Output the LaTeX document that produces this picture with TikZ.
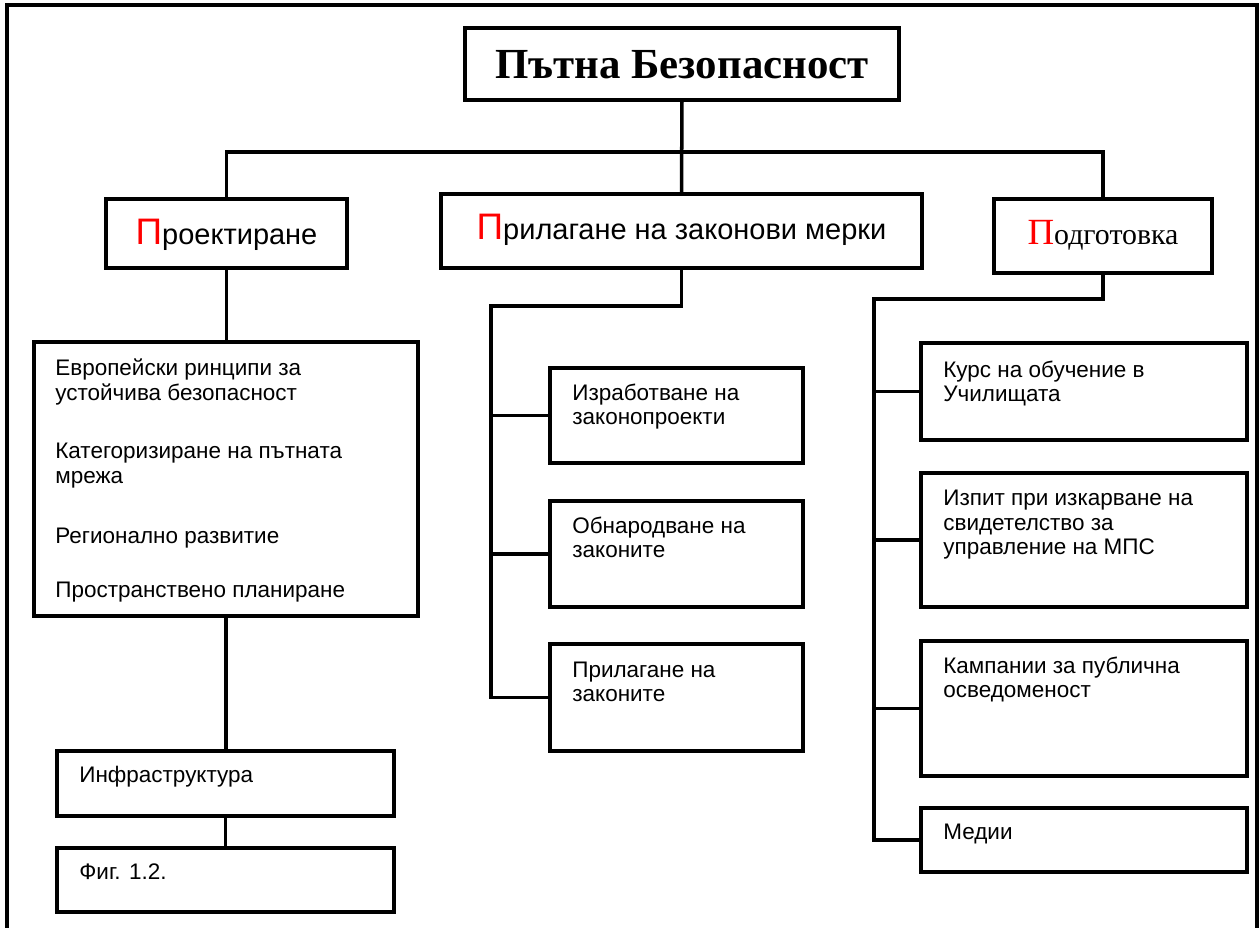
\documentclass[tikz,border=0pt]{standalone}
\usepackage{fontspec}
\setmainfont{Liberation Sans}
\newfontfamily\timesfont{Liberation Serif}
\usetikzlibrary{fit}

\tikzset{
	box/.style={draw, line width=2.3pt, inner sep=0pt, outer sep=0pt},
	conn/.style={line width=2pt},
	txt/.style={anchor=base west, inner sep=0pt, align=left, font=\fontsize{12.8pt}{14.2pt}\selectfont},
	headtxt/.style={anchor=base, inner sep=0pt, font=\fontsize{16.5pt}{18pt}\selectfont}
}
\newcommand{\redP}[1]{{\color{red}\fontsize{21pt}{21pt}\selectfont #1}}

\begin{document}
\begin{tikzpicture}[x=0.02cm, y=-0.02cm]
	\useasboundingbox (0,0) rectangle (1259,928);

	% frame
	\draw[line width=1.8pt] (7,928) -- (7,5) -- (1257,5) -- (1257,928);

	% title and headings
	\node[box, fit={(465,28) (899,100)}] (title) {};
	\node[headtxt, font=\timesfont\bfseries\fontsize{24.4pt}{26pt}\selectfont] (titletxt) at ([yshift={-15*0.02cm}]title.center) {Пътна Безопасност};
	\node[box, fit={(106,199) (347,268)}] (proekt) {};
	\node[headtxt] (proekttxt) at ([yshift={-11.5*0.02cm}]proekt.center) {\redP{П}роектиране};
	\node[box, fit={(441,194) (922,268)}] (prilag) {};
	\node[headtxt] (prilagtxt) at ([yshift={-9*0.02cm}]prilag.center) {\redP{П}рилагане на законови мерки};
	\node[box, fit={(994,199) (1212,273)}] (podg) {};
	\node[headtxt, font=\timesfont\fontsize{17pt}{19pt}\selectfont] (podgtxt) at ([yshift={-9*0.02cm}]podg.center) {\redP{П}одготовка};

	% left column (text anchored at its last line)
	\node[box, fit={(34,342) (418,616)}] (evro) {};
	\node[txt] (evrotxt) at ([shift={(21,256)}]evro.north west) {Европейски ринципи за\\устойчива безопасност\\[0.66cm]Категоризиране на пътната\\мрежа\\[0.7cm]Регионално развитие\\[0.6cm]Пространствено планиране};
	\node[box, fit={(57,751) (394,816)}] (infra) {};
	\node[txt] (infratxt) at ([shift={(22,32)}]infra.north west) {Инфраструктура};
	\node[box, fit={(57,848) (394,912)}] (fig) {};
	\node[txt] (figtxt) at ([shift={(22,32)}]fig.north west) {Фиг. 1.2.};

	% middle column
	\node[box, fit={(550,368) (803,463)}] (izrab) {};
	\node[txt] (izrabtxt) at ([shift={(22,57)}]izrab.north west) {Изработване на\\законопроекти};
	\node[box, fit={(550,501) (803,607)}] (obnar) {};
	\node[txt] (obnartxt) at ([shift={(22,57)}]obnar.north west) {Обнародване на\\законите};
	\node[box, fit={(550,644) (803,751)}] (prilz) {};
	\node[txt] (prilztxt) at ([shift={(22,58)}]prilz.north west) {Прилагане на\\законите};

	% right column
	\node[box, fit={(921,343) (1247,440)}] (kurs) {};
	\node[txt] (kurstxt) at ([shift={(22,59)}]kurs.north west) {Курс на обучение в\\Училищата};
	\node[box, fit={(921,473) (1247,607)}] (izpit) {};
	\node[txt] (izpittxt) at ([shift={(22,82)}]izpit.north west) {Изпит при изкарване на\\свидетелство за\\управление на МПС};
	\node[box, fit={(921,641) (1247,776)}] (kamp) {};
	\node[txt] (kamptxt) at ([shift={(22,57)}]kamp.north west) {Кампании за публична\\осведоменост};
	\node[box, fit={(921,808) (1247,872)}] (medii) {};
	\node[txt] (mediitxt) at ([shift={(22,32)}]medii.north west) {Медии};

	% connectors
	\coordinate (bus) at (682,152);
	\coordinate (mtrunk) at (491,306);
	\coordinate (rtrunk) at (874,299);
	\draw[conn] (title.south) -- (prilag.north);
	\draw[conn] (proekt.north) |- (bus) -| (podg.north);
	\draw[conn] (proekt.south) -- (proekt.south |- evro.north);
	\draw[conn] (evro.south) -- (evro.south |- infra.north);
	\draw[conn] (infra.south) -- (fig.north);

	\draw[conn] (prilag.south) |- (mtrunk) |- (prilz.west);
	\draw[conn] (mtrunk |- izrab.west) -- (izrab.west);
	\draw[conn] (mtrunk |- obnar.west) -- (obnar.west);

	\draw[conn] (podg.south) |- (rtrunk) |- (medii.west);
	\draw[conn] (rtrunk |- kurs.west) -- (kurs.west);
	\draw[conn] (rtrunk |- izpit.west) -- (izpit.west);
	\draw[conn] (rtrunk |- kamp.west) -- (kamp.west);

\end{tikzpicture}
\end{document}
